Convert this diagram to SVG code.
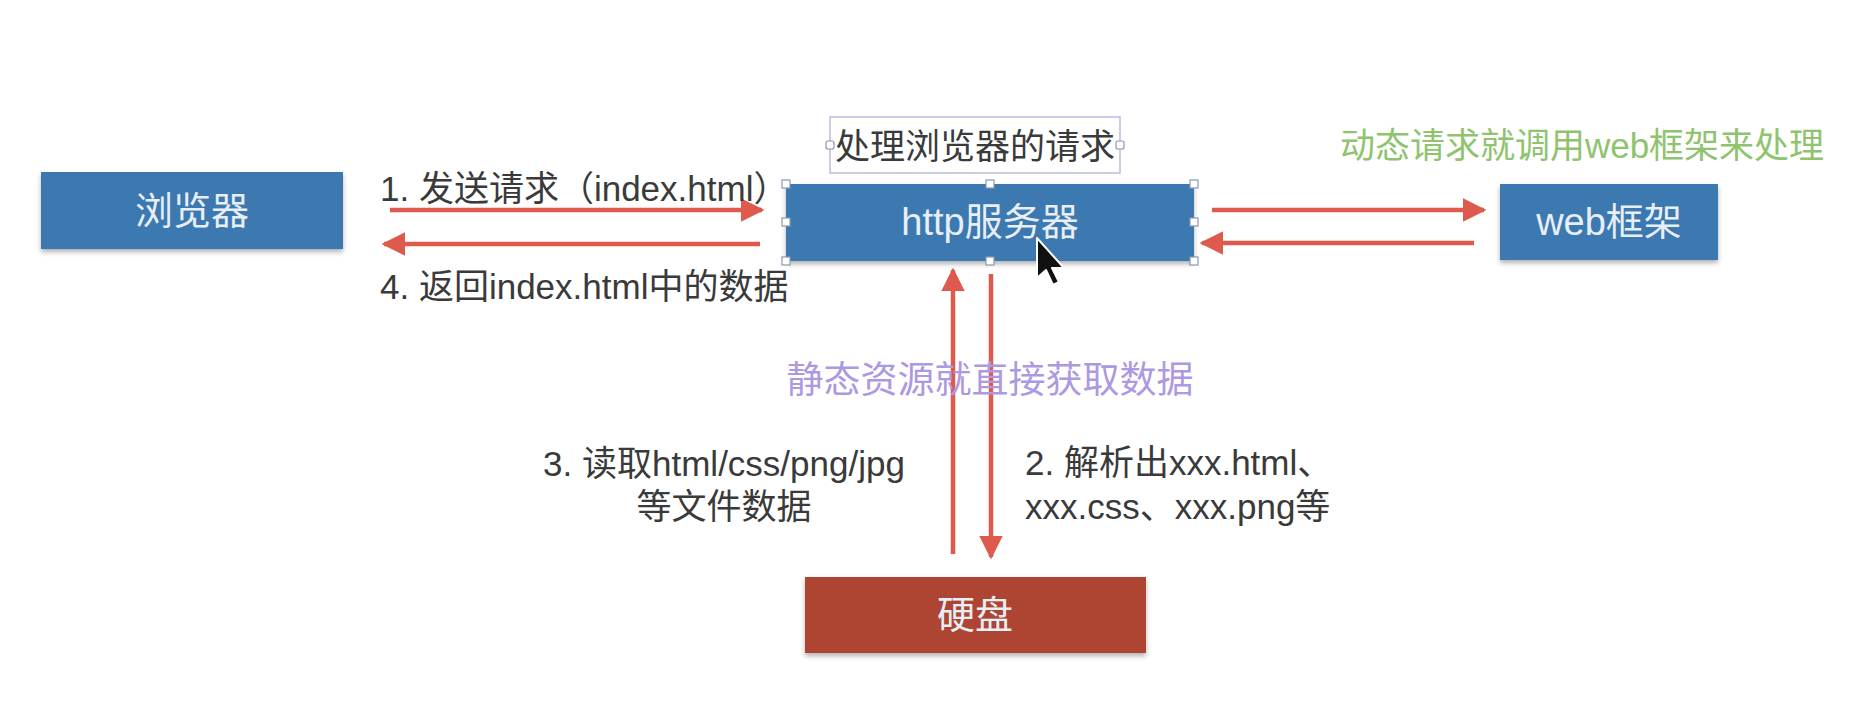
<svg xmlns="http://www.w3.org/2000/svg" width="1876" height="726" viewBox="0 0 1876 726">
<style>
text{font-family:"Liberation Sans","Noto Sans CJK SC",sans-serif}
.node{fill:#3e79b1;filter:url(#sh)}
.disk{fill:#ae4530;filter:url(#sh)}
.nt{fill:#e8eef6;font-size:38px;text-anchor:middle}
.lbl{fill:#3a3a3a;font-size:35px}
.arr{stroke:#de5a4c;stroke-width:4.5;fill:none}
.h{fill:#fff;stroke:#8a96b0;stroke-width:1.2}
</style>
<defs>
<filter id="sh" x="-10%" y="-20%" width="120%" height="150%"><feDropShadow dx="0" dy="3" stdDeviation="2.5" flood-color="#000" flood-opacity="0.3"/></filter>
<marker id="ah" viewBox="0 0 10 10" refX="9" refY="5" markerWidth="5.2" markerHeight="5.2" orient="auto" markerUnits="strokeWidth"><path d="M0,0 L10,5 L0,10 Z" fill="#de5a4c"/></marker>
</defs>
<rect width="1876" height="726" fill="#ffffff"/>
<g id="connectors">
<line class="arr" x1="390" y1="210" x2="762" y2="210" marker-end="url(#ah)"/>
<line class="arr" x1="760" y1="244" x2="384" y2="244" marker-end="url(#ah)"/>
<line class="arr" x1="1212" y1="210" x2="1484" y2="210" marker-end="url(#ah)"/>
<line class="arr" x1="1474" y1="243" x2="1202" y2="243" marker-end="url(#ah)"/>
<line class="arr" x1="953" y1="554" x2="953" y2="270" marker-end="url(#ah)"/>
<line class="arr" x1="991" y1="274" x2="991" y2="557" marker-end="url(#ah)"/>
</g>
<g id="browser">
<rect class="node" x="41" y="172" width="302" height="77"/>
<text class="nt" x="192" y="224">浏览器</text>
</g>
<g id="label-box">
<rect x="830" y="117" width="290" height="56" fill="#fff" stroke="#b9bddc" stroke-width="1.5"/>
<text class="lbl" x="975" y="159" text-anchor="middle" font-size="33">处理浏览器的请求</text>
<rect class="h" x="826" y="141" width="8" height="8" rx="2"/>
<rect class="h" x="1116" y="141" width="8" height="8" rx="2"/>
</g>
<g id="http-server">
<rect class="node" x="786" y="184" width="408" height="77"/>
<text class="nt" x="990" y="235">http服务器</text>
<rect class="h" x="782" y="180" width="8" height="8"/>
<rect class="h" x="986" y="180" width="8" height="8"/>
<rect class="h" x="1190" y="180" width="8" height="8"/>
<rect class="h" x="782" y="218" width="8" height="8"/>
<rect class="h" x="1190" y="218" width="8" height="8"/>
<rect class="h" x="782" y="257" width="8" height="8"/>
<rect class="h" x="986" y="257" width="8" height="8"/>
<rect class="h" x="1190" y="257" width="8" height="8"/>
</g>
<g id="web-framework">
<rect class="node" x="1500" y="184" width="218" height="76"/>
<text class="nt" x="1609" y="235">web框架</text>
</g>
<g id="disk">
<rect class="disk" x="805" y="577" width="341" height="76"/>
<text class="nt" x="975" y="628" fill="#f6e6e2">硬盘</text>
</g>
<g id="labels">
<text class="lbl" x="380" y="201">1. 发送请求（index.html）</text>
<text class="lbl" x="380" y="299">4. 返回index.html中的数据</text>
<text x="1582" y="158" font-size="35" fill="#8fc36e" text-anchor="middle">动态请求就调用web框架来处理</text>
<text x="990" y="393" font-size="37" fill="#ad98e2" text-anchor="middle">静态资源就直接获取数据</text>
<text class="lbl" x="724" y="476" text-anchor="middle" font-size="36">3. 读取html/css/png/jpg</text>
<text class="lbl" x="724" y="519" text-anchor="middle" font-size="36">等文件数据</text>
<text class="lbl" x="1025" y="475" font-size="34">2. 解析出xxx.html、</text>
<text class="lbl" x="1025" y="519" font-size="34">xxx.css、xxx.png等</text>
</g>
<g id="cursor">
<path d="M1037,238 L1037,278 L1046,270 L1053,285 L1059,282 L1052,268 L1064,268 Z" fill="#111" stroke="#fff" stroke-width="2" stroke-linejoin="round"/>
</g>
</svg>
